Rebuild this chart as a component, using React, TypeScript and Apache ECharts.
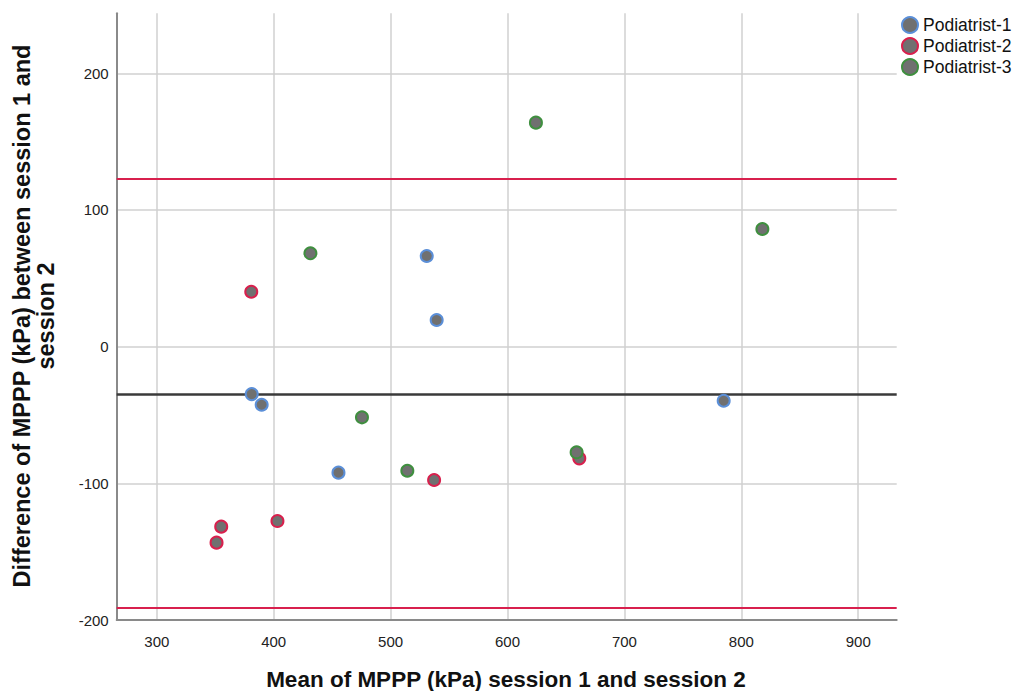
import React, { useEffect, useRef } from "react";
import * as echarts from "echarts";

// Bland–Altman data: [mean of sessions, difference between sessions]
const podiatrist1: [number, number][] = [
  [381.2, -34.7],
  [389.7, -42.5],
  [455.4, -92.2],
  [530.9, 66.3],
  [539.4, 19.5],
  [784.9, -39.6],
];
const podiatrist2: [number, number][] = [
  [380.8, 40.2],
  [355.1, -131.7],
  [351.1, -143.4],
  [403.2, -127.6],
  [537.2, -97.6],
  [661.4, -81.7],
];
const podiatrist3: [number, number][] = [
  [431.4, 68.3],
  [475.5, -51.7],
  [514.3, -90.8],
  [624.3, 163.9],
  [659.1, -77.3],
  [818.0, 86.1],
];

const meanDifference = -34.6;
const upperLimit = 123.2;
const lowerLimit = -191.4;

const seriesNames = ["Podiatrist-1", "Podiatrist-2", "Podiatrist-3"];
const borderColors = ["#5b8fd8", "#d8204d", "#3f8f3f"];

const xTitle = "Mean of MPPP (kPa) session 1 and session 2";
const yTitle = "Difference of MPPP (kPa) between session 1 and\nsession 2";

const FONT = "'Liberation Sans', Arial, sans-serif";

export default function App() {
  const ref = useRef<HTMLDivElement>(null);

  useEffect(() => {
    if (!ref.current) return;
    const chart = echarts.init(ref.current, undefined, { renderer: "svg" });
    const datasets = [podiatrist1, podiatrist2, podiatrist3];

    const scatterSeries: any[] = datasets.map((d, i) => ({
      name: seriesNames[i],
      type: "scatter",
      data: d,
      symbol: "circle",
      symbolSize: 12,
      z: 5,
      itemStyle: {
        color: "#707070",
        borderColor: borderColors[i],
        borderWidth: 2,
        opacity: 1,
      },
    }));

    scatterSeries[0].markLine = {
      silent: true,
      symbol: "none",
      label: { show: false },
      animation: false,
      data: [
        { yAxis: upperLimit, lineStyle: { color: "#d8204d", width: 2, type: "solid" } },
        { yAxis: meanDifference, lineStyle: { color: "#3a3a3a", width: 2.5, type: "solid" } },
        { yAxis: lowerLimit, lineStyle: { color: "#d8204d", width: 2, type: "solid" } },
      ],
    };

    chart.setOption({
      animation: false,
      backgroundColor: "#ffffff",
      textStyle: { fontFamily: FONT },
      grid: { left: 116.7, right: 121.3, top: 13.3, bottom: 71, containLabel: false },
      legend: {
        orient: "vertical",
        left: 901,
        top: 16,
        padding: 0,
        itemWidth: 16,
        itemHeight: 16,
        itemGap: 3,
        icon: "circle",
        data: seriesNames,
        textStyle: { fontFamily: FONT, fontSize: 17.5, color: "#111" },
      },
      xAxis: {
        type: "value",
        min: 265.7,
        max: 932.9,
        splitNumber: 7,
        axisLine: { show: true, onZero: false, lineStyle: { color: "#8a8a8a", width: 2 } },
        axisTick: { show: false },
        axisLabel: {
          showMinLabel: false,
          showMaxLabel: false,
          fontFamily: FONT,
          fontSize: 15,
          color: "#222",
          margin: 14,
        },
        splitLine: {
          show: true,
          showMinLine: false,
          showMaxLine: false,
          lineStyle: { color: "#d0d0d0", width: 1.5 },
        },
      },
      yAxis: {
        type: "value",
        min: -200,
        max: 243.9,
        interval: 100,
        axisLine: { show: true, onZero: false, lineStyle: { color: "#8a8a8a", width: 2 } },
        axisTick: { show: false },
        axisLabel: {
          showMaxLabel: false,
          fontFamily: FONT,
          fontSize: 15,
          color: "#222",
          margin: 8,
        },
        splitLine: {
          show: true,
          showMinLine: false,
          showMaxLine: false,
          lineStyle: { color: "#d0d0d0", width: 1.5 },
        },
      },
      graphic: [
        {
          type: "text",
          x: 506,
          y: 679,
          style: {
            text: xTitle,
            font: `bold 22.5px ${FONT}`,
            fill: "#111",
            textAlign: "center",
            textVerticalAlign: "middle",
          },
        },
        {
          type: "text",
          x: 34,
          y: 316,
          rotation: Math.PI / 2,
          style: {
            text: yTitle,
            font: `bold 23.5px ${FONT}`,
            lineHeight: 24,
            fill: "#111",
            textAlign: "center",
            textVerticalAlign: "middle",
          },
        },
      ],
      series: scatterSeries,
    });

    return () => chart.dispose();
  }, []);

  return (
    <div
      ref={ref}
      style={{ position: "fixed", left: 0, top: 0, width: 1018, height: 691, background: "#fff" }}
    />
  );
}
